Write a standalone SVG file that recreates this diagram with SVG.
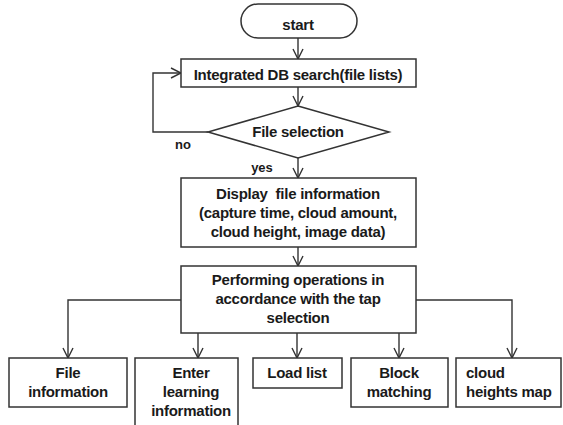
<svg xmlns="http://www.w3.org/2000/svg" width="563" height="425" viewBox="0 0 563 425">
<defs>
<marker id="ah" viewBox="0 0 12 12" refX="11" refY="6" markerWidth="12" markerHeight="12" markerUnits="userSpaceOnUse" orient="auto">
<path d="M1,1 L11,6 L1,11" fill="none" stroke="#333" stroke-width="1.4"/>
</marker>
<style>
.b{fill:#fff;stroke:#333;stroke-width:1.5}
.t{font-family:"Liberation Sans",Arial,sans-serif;font-size:15px;font-weight:bold;fill:#1a1a1a;text-anchor:middle;letter-spacing:-0.25px}
.s{font-family:"Liberation Sans",Arial,sans-serif;font-size:13px;font-weight:bold;fill:#1a1a1a;text-anchor:middle}
.c{fill:none;stroke:#333;stroke-width:1.4}
</style>
</defs>
<rect width="563" height="425" fill="#fff"/>
<g id="connectors">
<path class="c" d="M298,38 V59" marker-end="url(#ah)"/>
<path class="c" d="M298,87 V106" marker-end="url(#ah)"/>
<path class="c" d="M208,132 H153 V73 H181" marker-end="url(#ah)"/>
<path class="c" d="M298,158 V178" marker-end="url(#ah)"/>
<path class="c" d="M298,247 V266" marker-end="url(#ah)"/>
<path class="c" d="M181,300 H68 V358" marker-end="url(#ah)"/>
<path class="c" d="M198,333 V358" marker-end="url(#ah)"/>
<path class="c" d="M297,333 V358" marker-end="url(#ah)"/>
<path class="c" d="M399,333 V358" marker-end="url(#ah)"/>
<path class="c" d="M416,300 H512 V358" marker-end="url(#ah)"/>
<text class="s" x="183" y="149">no</text>
<text class="s" x="262" y="172">yes</text>
</g>
<g id="start">
<rect class="b" x="241" y="4" width="116" height="34" rx="17"/>
<text class="t" x="298" y="30">start</text>
</g>
<g id="db_search">
<rect class="b" x="181" y="59" width="235" height="28"/>
<text class="t" x="298" y="80">Integrated DB search(file lists)</text>
</g>
<g id="file_selection">
<polygon class="b" points="298,106 389,132 298,158 208,132"/>
<text class="t" x="298" y="137">File selection</text>
</g>
<g id="display">
<rect class="b" x="181" y="178" width="235" height="69"/>
<text class="t" x="298" y="199">Display&#160; file information</text>
<text class="t" x="298" y="218">(capture time, cloud amount,</text>
<text class="t" x="298" y="237">cloud height, image data)</text>
</g>
<g id="performing">
<rect class="b" x="181" y="266" width="235" height="67"/>
<text class="t" x="298" y="285">Performing operations in</text>
<text class="t" x="298" y="304">accordance with the tap</text>
<text class="t" x="298" y="323">selection</text>
</g>
<g id="file_info">
<rect class="b" x="9" y="358" width="118" height="49"/>
<text class="t" x="68" y="378">File</text>
<text class="t" x="68" y="397">information</text>
</g>
<g id="enter_learning">
<rect class="b" x="135" y="358" width="103" height="70"/>
<text class="t" x="191" y="378">Enter</text>
<text class="t" x="191" y="397">learning</text>
<text class="t" x="191" y="416">information</text>
</g>
<g id="load_list">
<rect class="b" x="253" y="358" width="89" height="30"/>
<text class="t" x="297" y="378">Load list</text>
</g>
<g id="block_matching">
<rect class="b" x="351" y="358" width="97" height="49"/>
<text class="t" x="399" y="378">Block</text>
<text class="t" x="399" y="397">matching</text>
</g>
<g id="cloud_heights">
<rect class="b" x="456" y="358" width="105" height="49"/>
<text class="t" x="466" y="378" style="text-anchor:start">cloud</text>
<text class="t" x="466" y="397" style="text-anchor:start">heights map</text>
</g>
</svg>
